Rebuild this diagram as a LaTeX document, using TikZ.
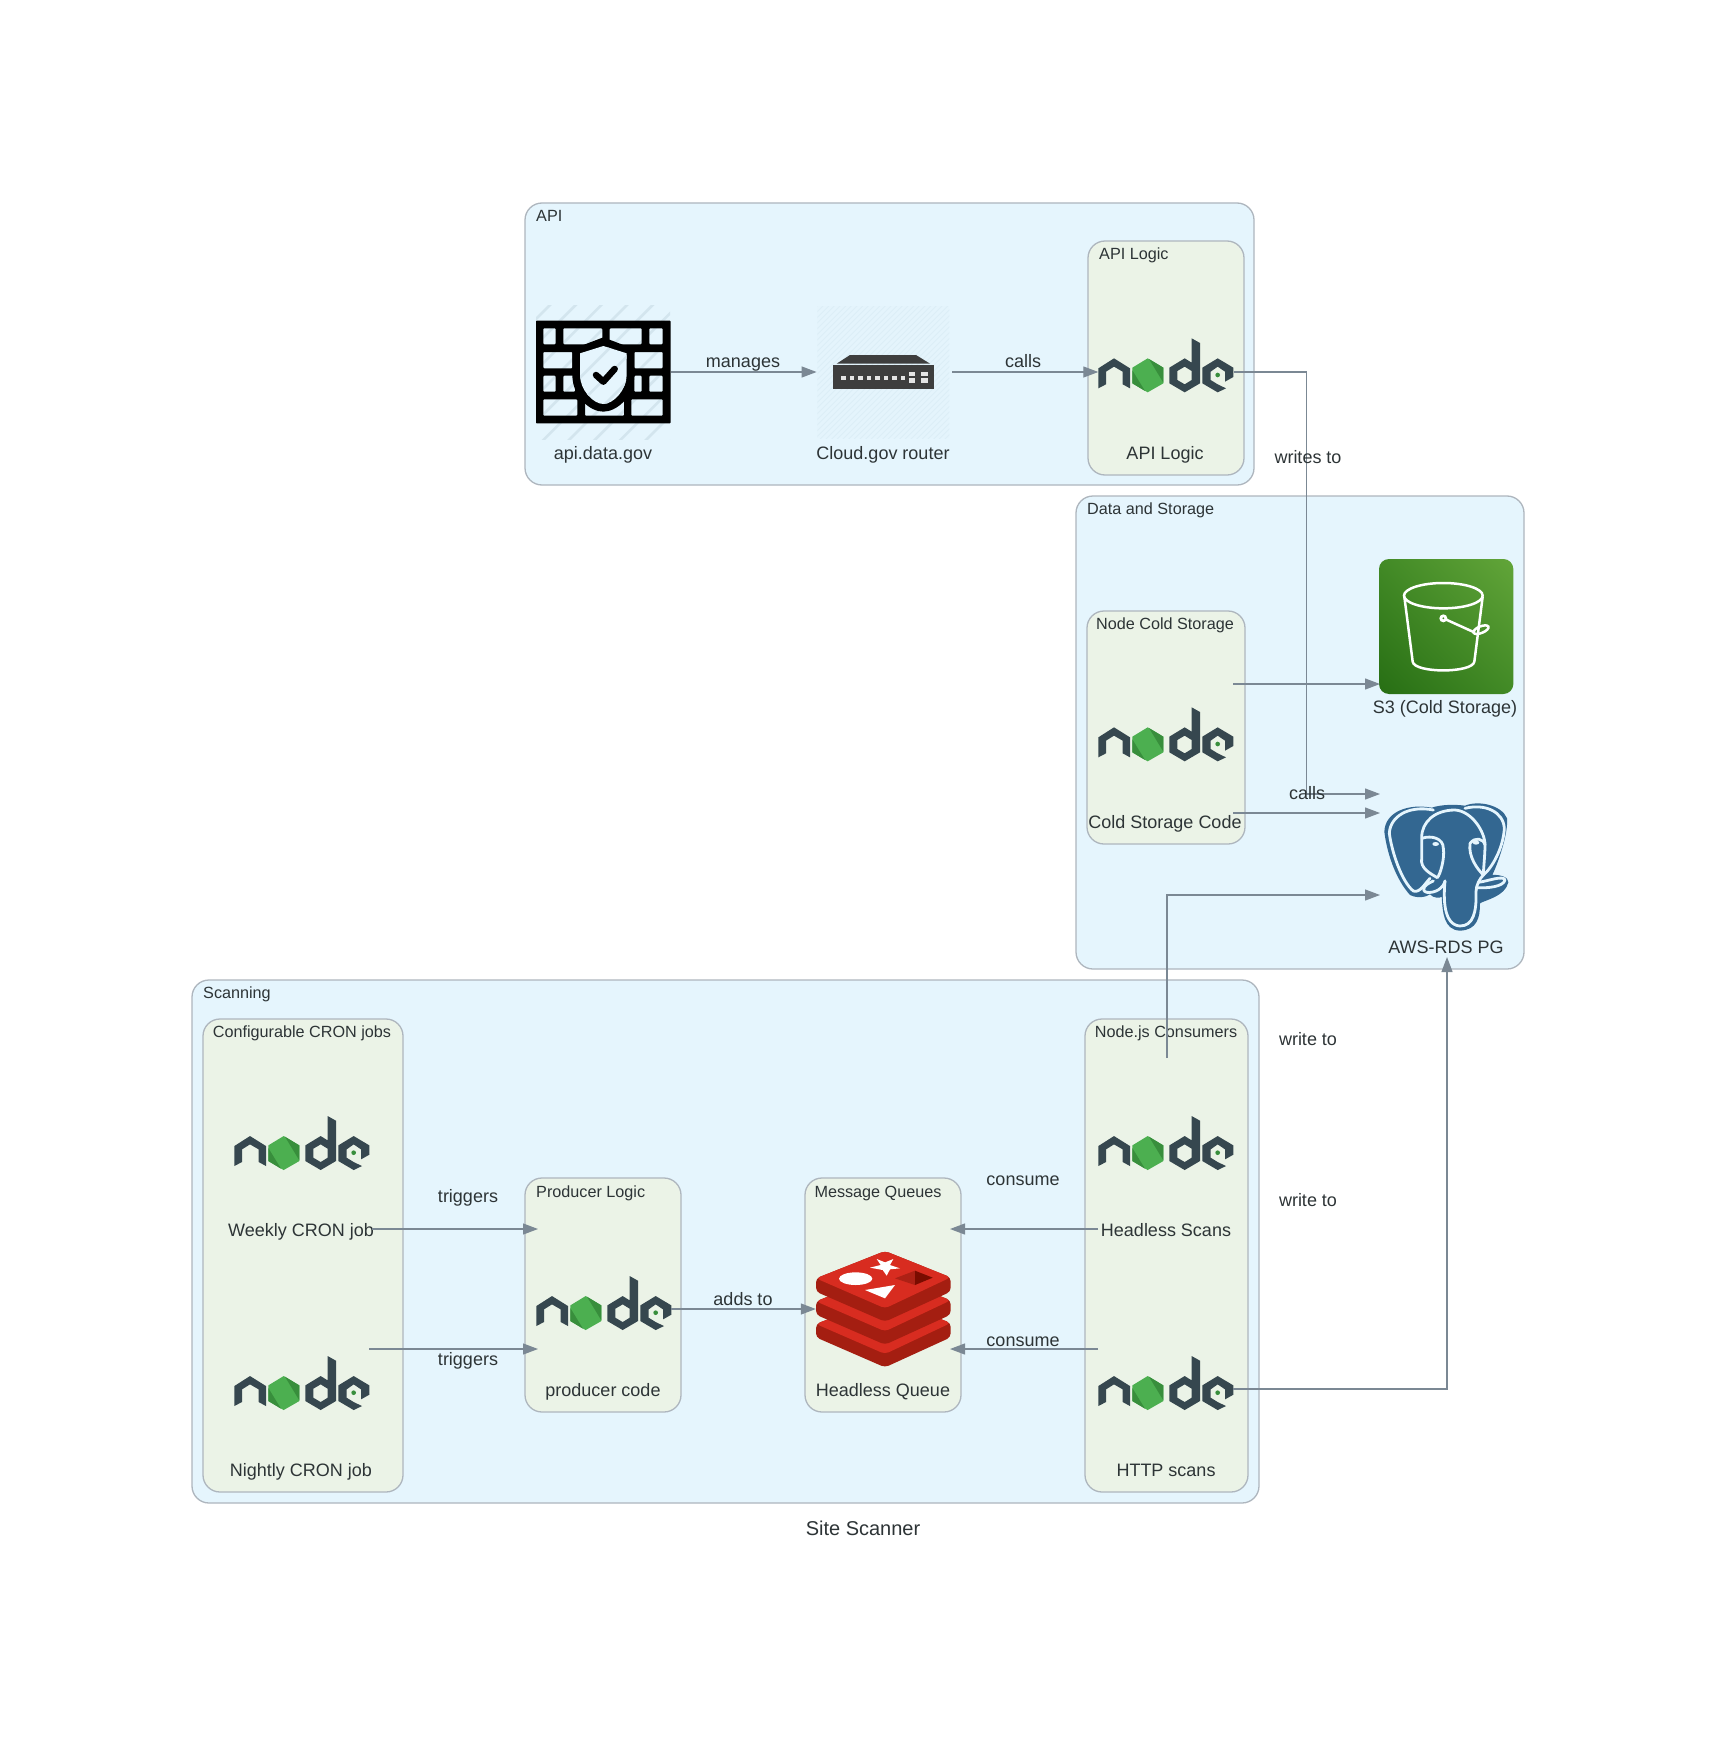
\documentclass[tikz,border=0pt]{standalone}
\usepackage{fontspec}
\setmainfont{Liberation Sans}
\usetikzlibrary{arrows.meta,shadings}
\definecolor{clblue}{HTML}{E5F5FD}
\definecolor{clgreen}{HTML}{EBF3E7}
\definecolor{clpen}{HTML}{AEB6BE}
\definecolor{edgec}{HTML}{7B8894}
\definecolor{txt}{HTML}{2D3436}
\definecolor{ndark}{HTML}{36474F}
\definecolor{nlight}{HTML}{4CAF50}
\definecolor{nmid}{HTML}{388E3C}
\definecolor{rbright}{HTML}{D82C20}
\definecolor{rdark}{HTML}{A41E11}
\definecolor{rhole}{HTML}{AD2115}
\definecolor{rholed}{HTML}{7A0C00}
\definecolor{pgblue}{HTML}{336791}
\definecolor{hatchc}{HTML}{D3E5EE}
\definecolor{hatchd}{HTML}{DCEEF7}
\definecolor{routerbg}{HTML}{E4F4FC}
\definecolor{routerc}{HTML}{3E3E3E}
\definecolor{routerl}{HTML}{E4E4E4}
\definecolor{sll}{HTML}{276E14}
\definecolor{sur}{HTML}{62A539}
\definecolor{smid}{HTML}{428A26}
\tikzset{
  outercl/.style={draw=clpen,fill=clblue,line width=1.3pt,rounded corners=17pt},
  innercl/.style={draw=clpen,fill=clgreen,line width=1.3pt,rounded corners=17pt},
  edge/.style={draw=edgec,line width=1.2pt,-{Triangle[length=15pt,width=11pt,fill=edgec]}},
  lab/.style={text=txt,inner sep=0pt,text height=13.2pt,text depth=3.9pt,font=\fontsize{18}{20}\selectfont},
  cltitle/.style={text=txt,inner sep=0pt,text height=12pt,text depth=3.6pt,font=\fontsize{16.2}{18}\selectfont},
  iconbox/.style={inner sep=0pt,minimum size=135pt},
  nodelogo/.pic={
    \fill[ndark] (25,112)--(72,82)--(120,112)--(120,172)--(98,160)--(98,122)--(72,107)--(48,122)--(48,160)--(25,172)--cycle;
    \fill[nlight] (173,82)--(220,110)--(220,157)--(173,184)--(127,157)--(127,110)--cycle;
    \fill[nmid] (177,84)--(220,110)--(220,155)--cycle;
    \fill[nmid] (127,118)--(165,180)--(127,157)--cycle;
    \fill[ndark,even odd rule] (305,22)--(330,36)--(330,157)--(284,184)--(238,157)--(238,110)--(284,82)--(305,95)--cycle
      (284,107)--(305,120)--(305,147)--(284,160)--(262,147)--(262,120)--cycle;
    \fill[ndark] (337,110)--(383,82)--(430,110)--(430,138)--(405,152)--(405,122)--(383,107)--(362,122)--(362,147)--(383,160)--(408,172)--(383,184)--(337,157)--cycle;
    \fill[nmid] (383,132) circle (7);
  },
  firewallicon/.pic={
    \begin{scope}
      \clip (18,15) rectangle (420,418);
      \foreach \c in {75,152,...,850}{\draw[hatchc,line width=2.6pt] (\c,0)--(0,\c);}
    \end{scope}
    \fill[black,even odd rule,rounded corners=0.8pt] (18,62) rectangle (422,370)
      (40,85) rectangle (77,133) (100,85) rectangle (217,133) (239,85) rectangle (335,133) (358,85) rectangle (398,133)
      (40,156) rectangle (127,205) (313,156) rectangle (398,205)
      (40,227) rectangle (77,275) (100,227) rectangle (135,275) (313,227) rectangle (335,275) (358,227) rectangle (398,275)
      (40,298) rectangle (142,347) (165,298) rectangle (282,347) (304,298) rectangle (398,347);
    \fill[black] (165,133)--(220,112)--(275,133)--(313,148)--(313,225) .. controls (313,290) and (260,335) .. (220,335) .. controls (180,335) and (127,290) .. (127,225) -- (127,148)--cycle;
    \path[fill=clblue] (220,138)--(290,160)--(290,225) .. controls (290,270) and (250,312) .. (220,312) .. controls (190,312) and (150,270) .. (150,225) -- (150,160)--cycle;
    \begin{scope}
      \clip (220,138)--(290,160)--(290,225) .. controls (290,270) and (250,312) .. (220,312) .. controls (190,312) and (150,270) .. (150,225) -- (150,160)--cycle;
      \foreach \c in {75,152,...,850}{\draw[hatchc,line width=2.6pt] (\c,0)--(0,\c);}
    \end{scope}
    \draw[black,line width=6.5pt,line cap=round,line join=round] (198,225)--(220,245)--(254,207);
  },
  routericon/.pic={
    \fill[routerbg] (22,18) rectangle (418,415);
    \begin{scope}
      \clip (22,18) rectangle (418,415);
      \foreach \c in {40,57,...,840}{\draw[hatchd,line width=0.9pt] (\c,0)--(0,\c);}
    \end{scope}
    \fill[routerc] (120,165)--(318,165)--(360,191)--(80,191)--cycle;
    \fill[routerc] (68,196) rectangle (372,267);
    \foreach \x in {94,120,145,171,196,222,247,272}{\fill[routerl] (\x,228) rectangle ++(13,13);}
    \foreach \x/\y in {296/216,296/235,334/216,334/235}{\fill[routerl] (\x,\y) rectangle ++(19.5,13);}
  },
  redisicon/.pic={
    \foreach \d in {137,69,0}{
      \fill[rdark,rounded corners=4pt] (18,100+\d)--(225,18+\d)--(422,97+\d)--(422,140+\d)--(225,230+\d)--(18,140+\d)--cycle;
      \fill[rbright,rounded corners=4pt] (18,100+\d)--(225,18+\d)--(422,97+\d)--(225,190+\d)--cycle;
    }
    \fill[white] (137,101) ellipse [x radius=50,y radius=19];
    \fill[white] (200,42)--(225,52)--(250,42)--(240,60)--(270,70)--(240,73)--(230,92)--(218,75)--(180,68)--(212,60)--cycle;
    \fill[white] (165,135)--(255,120)--(225,160)--cycle;
    \fill[rhole] (255,100)--(315,77)--(315,120)--cycle;
    \fill[rholed] (315,77)--(368,98)--(315,120)--cycle;
  },
  s3icon/.pic={
    \shade[lower left=sll,upper right=sur,lower right=smid,upper left=smid,rounded corners=10pt] (12,12) rectangle (415,417);
    \draw[white,line width=2.5pt] (205,122) ellipse [x radius=118,y radius=38];
    \draw[white,line width=2.5pt] (88,125)--(113,320) .. controls (118,355) and (292,355) .. (298,320) --(323,125);
    \draw[white,line width=2.5pt] (205,190)--(300,233);
    \fill[white] (205,190) circle (12);
    \fill[smid] (205,190) circle (3);
    \draw[white,line width=2.5pt,rotate around={22:(318,224)}] (318,224) ellipse [x radius=24,y radius=10];
  },
  pgicon/.pic={
    \fill[pgblue] (170,38) .. controls (100,25) and (30,50) .. (28,110) .. controls (35,170) and (60,250) .. (105,300)
      .. controls (130,312) and (155,305) .. (165,298) .. controls (175,310) and (195,310) .. (200,305)
      .. controls (203,350) and (205,405) .. (255,407) .. controls (305,405) and (315,370) .. (315,325)
      .. controls (330,315) and (390,305) .. (400,262) .. controls (402,245) and (370,238) .. (352,240)
      .. controls (375,190) and (400,110) .. (396,70) .. controls (380,30) and (310,15) .. (270,32)
      .. controls (240,28) and (200,28) .. (170,38) -- cycle;
    \begin{scope}[draw=clblue,line width=2.8pt,line cap=round,line join=round]
      \draw (175,45) .. controls (100,30) and (45,65) .. (43,115) .. controls (50,170) and (80,260) .. (115,288) .. controls (135,295) and (150,265) .. (165,250);
      \draw (140,128) .. controls (140,80) and (180,45) .. (240,45) .. controls (290,48) and (330,110) .. (330,150);
      \draw (270,40) .. controls (330,25) and (385,50) .. (388,100) .. controls (385,160) and (350,220) .. (325,240);
      \draw (140,130) .. controls (170,120) and (205,130) .. (205,160) .. controls (210,190) and (195,240) .. (187,248) .. controls (165,235) and (135,220) .. (140,190) -- (140,130);
      \draw (285,145) .. controls (300,125) and (325,130) .. (330,150) .. controls (330,180) and (325,225) .. (325,240) .. controls (305,220) and (280,185) .. (285,145);
      \draw (175,258) .. controls (150,268) and (135,285) .. (155,292) .. controls (180,295) and (205,280) .. (210,258);
      \draw (210,258) .. controls (205,310) and (205,390) .. (255,393) .. controls (295,393) and (305,350) .. (303,290) .. controls (303,270) and (315,250) .. (325,240);
      \draw (310,262) .. controls (340,258) and (385,240) .. (390,255) .. controls (385,275) and (340,280) .. (305,278);
    \end{scope}
    \fill[clblue] (182,147) ellipse [x radius=10,y radius=6];
    \fill[clblue] (303,143) ellipse [x radius=10,y radius=6];
  },
}
\begin{document}
\begin{tikzpicture}[x=1pt,y=-1pt]
\useasboundingbox[fill=white] (0,0) rectangle (1727,1739);
% clusters
\node[outercl,inner sep=0pt,minimum width=729pt,minimum height=282pt] (clapi) at (889.5,344) {};
\node[innercl,inner sep=0pt,minimum width=156pt,minimum height=234pt] (clapilogic) at (1166,358) {};
\node[outercl,inner sep=0pt,minimum width=448pt,minimum height=473pt] (cldata) at (1300,732.5) {};
\node[innercl,inner sep=0pt,minimum width=158pt,minimum height=233pt] (clcold) at (1166,727.5) {};
\node[outercl,inner sep=0pt,minimum width=1067pt,minimum height=523pt] (clscan) at (725.5,1241.5) {};
\node[innercl,inner sep=0pt,minimum width=200pt,minimum height=473pt] (clcron) at (303,1255.5) {};
\node[innercl,inner sep=0pt,minimum width=156pt,minimum height=234pt] (clprod) at (603,1295) {};
\node[innercl,inner sep=0pt,minimum width=156pt,minimum height=234pt] (clmq) at (883,1295) {};
\node[innercl,inner sep=0pt,minimum width=163pt,minimum height=473pt] (clcons) at (1166.5,1255.5) {};
% cluster titles
\node[cltitle,anchor=west] (tapi) at (536,217) {API};
\node[cltitle,anchor=west] (tapil) at (1099,255) {API Logic};
\node[cltitle,anchor=west] (tdata) at (1087,510) {Data and Storage};
\node[cltitle] (tcold) at (1165,625) {Node Cold Storage};
\node[cltitle,anchor=west] (tscan) at (203,994) {Scanning};
\node[cltitle] (tcron) at (302,1033) {Configurable CRON jobs};
\node[cltitle,anchor=west] (tprod) at (536,1193) {Producer Logic};
\node[cltitle] (tmq) at (878,1193) {Message Queues};
\node[cltitle] (tcons) at (1166,1033) {Node.js Consumers};
% icon nodes
\node[iconbox] (fw) at (603.5,372) {};
\node[iconbox] (router) at (884.3,372) {};
\node[iconbox] (apilogic) at (1166,372) {};
\node[iconbox] (cold) at (1165.5,741) {};
\node[iconbox] (s3) at (1446,626.5) {};
\node[iconbox] (pg) at (1446.5,875) {};
\node[iconbox] (weekly) at (301.5,1149) {};
\node[iconbox] (nightly) at (301.5,1389) {};
\node[iconbox] (producer) at (603.5,1309) {};
\node[iconbox] (redis) at (883.5,1309) {};
\node[iconbox] (headless) at (1165.5,1149) {};
\node[iconbox] (http) at (1165.5,1389) {};
% icons
\pic[scale=1/3] at (530,300) {firewallicon};
\pic[scale=1/3] at (810,300) {routericon};
\pic[scale=1/3] at (1090,331) {nodelogo};
\pic[scale=1/3] at (1090,700) {nodelogo};
\pic[scale=1/3] at (226,1108.7) {nodelogo};
\pic[scale=1/3] at (226,1348.7) {nodelogo};
\pic[scale=1/3] at (528,1268.7) {nodelogo};
\pic[scale=1/3] at (1090,1108.7) {nodelogo};
\pic[scale=1/3] at (1090,1348.7) {nodelogo};
\pic[scale=1/3] at (810,1245) {redisicon};
\pic[scale=1/3] at (1375,555) {s3icon};
\pic[scale=1/3] at (1375,795) {pgicon};
% node labels
\node[lab] (lfw) at (603,455) {api.data.gov};
\node[lab] (lrouter) at (883,455) {Cloud.gov router};
\node[lab] (lapi) at (1165,455) {API Logic};
\node[lab] (lcold) at (1165,824) {Cold Storage Code};
\node[lab] (ls3) at (1445,709) {S3 (Cold Storage)};
\node[lab] (lpg) at (1446,949) {AWS-RDS PG};
\node[lab] (lweekly) at (301,1232) {Weekly CRON job};
\node[lab] (lnightly) at (301,1472) {Nightly CRON job};
\node[lab] (lprod) at (603,1392) {producer code};
\node[lab] (lredis) at (883,1392) {Headless Queue};
\node[lab] (lhead) at (1166,1232) {Headless Scans};
\node[lab] (lhttp) at (1166,1472) {HTTP scans};
% connector ports
\coordinate (coldtop) at (1233,684);
\coordinate (coldbot) at (1233,813);
\coordinate (headtop) at (1167,1058);
\coordinate (pgtop) at (1380,794);
\coordinate (pgmid) at (1380,895);
\coordinate (pgbot) at (1447,957);
\coordinate (writesbend) at (1306.5,372);
\coordinate (s3in) at (1380,684);
\coordinate (weekout) at (372,1229);
\coordinate (nightout) at (369,1349);
\coordinate (prodin1) at (538,1229);
\coordinate (prodin2) at (538,1349);
\coordinate (headout) at (1098,1229);
\coordinate (httpout) at (1098,1349);
\coordinate (qin1) at (950,1229);
\coordinate (qin2) at (950,1349);
% connectors
\draw[edge] (fw.east) -- (router.west);
\draw[edge] (router.east) -- (apilogic.west);
\draw[edge] (apilogic.east) -- (writesbend) |- (pgtop);
\draw[edge] (coldtop) -- (s3in);
\draw[edge] (coldbot) -- (coldbot -| pgtop);
\draw[edge] (headtop) |- (pgmid);
\draw[edge] (http.east) -| (pgbot);
\draw[edge] (weekout) -- (prodin1);
\draw[edge] (nightout) -- (prodin2);
\draw[edge] (producer.east) -- (redis.west);
\draw[edge] (headout) -- (qin1);
\draw[edge] (httpout) -- (qin2);
% connector labels
\node[lab] (emanages) at (743,363) {manages};
\node[lab] (ecalls1) at (1023,363) {calls};
\node[lab] (ewrites) at (1308,459) {writes to};
\node[lab] (ecalls2) at (1307,795) {calls};
\node[lab] (ew1) at (1308,1041) {write to};
\node[lab] (ew2) at (1308,1202) {write to};
\node[lab] (econs1) at (1023,1181) {consume};
\node[lab] (econs2) at (1023,1342) {consume};
\node[lab] (etr1) at (468,1198) {triggers};
\node[lab] (etr2) at (468,1361) {triggers};
\node[lab] (eadd) at (743,1301) {adds to};
\node[text=txt,inner sep=0pt,font=\fontsize{20}{22}\selectfont] (title) at (863,1528) {Site Scanner};
\end{tikzpicture}
\end{document}
